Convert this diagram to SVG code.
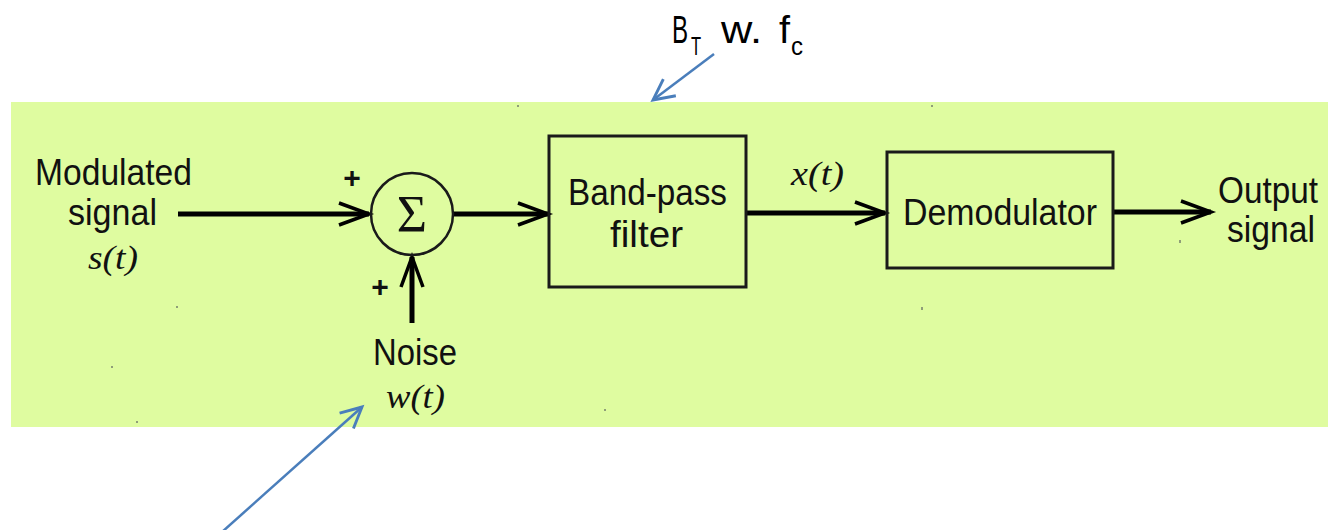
<svg xmlns="http://www.w3.org/2000/svg" width="1328" height="530" viewBox="0 0 1328 530">
  <defs>
    <style>
      .lbl { font-family: "Liberation Sans", Arial, sans-serif; font-size: 36px; fill: #111; text-anchor: start; }
      .ital { font-family: "Liberation Serif", "Times New Roman", serif; font-style: italic; font-size: 34px; fill: #111; }
      .note { font-family: "Liberation Sans", Arial, sans-serif; fill: #000; }
      .plus { font-family: "Liberation Sans", Arial, sans-serif; font-weight: bold; font-size: 30px; fill: #111; text-anchor: middle; }
      .box { fill: none; stroke: #1a1a1a; stroke-width: 3; }
      .wire { fill: none; stroke: #000; stroke-width: 5; }
      .blue { fill: none; stroke: #4a7ebb; stroke-width: 2.5; }
      .speck { fill: #8f9e78; }
    </style>
    <marker id="blk" markerUnits="userSpaceOnUse" markerWidth="40" markerHeight="30" refX="0" refY="0" viewBox="-34 -15 38 30" orient="auto" overflow="visible">
      <path d="M -30 -11 L 0 0 L -30 11" fill="none" stroke="#000" stroke-width="3.5"/>
    </marker>
    <marker id="blu" markerUnits="userSpaceOnUse" markerWidth="30" markerHeight="30" refX="0" refY="0" viewBox="-22 -12 26 24" orient="auto" overflow="visible">
      <path d="M -18 -9 L 0 0 L -18 9" fill="none" stroke="#4a7ebb" stroke-width="2.5"/>
    </marker>
  </defs>

  <rect x="0" y="0" width="1328" height="530" fill="#ffffff"/>
  <rect id="panel" x="11" y="102" width="1317" height="325" fill="#dffca0"/>

  <g id="specks">
    <rect class="speck" x="517" y="105" width="2" height="2"/>
    <rect class="speck" x="176" y="306" width="2" height="2"/>
    <rect class="speck" x="111" y="366" width="2" height="2"/>
    <rect class="speck" x="136" y="421" width="2" height="2"/>
    <rect class="speck" x="931" y="105" width="2" height="2"/>
    <rect class="speck" x="921" y="307" width="2" height="3"/>
    <rect class="speck" x="1179" y="240" width="2" height="3"/>
    <rect class="speck" x="604" y="409" width="2" height="2"/>
  </g>

  <g id="connectors">
    <line class="wire" x1="178" y1="214" x2="369" y2="214" marker-end="url(#blk)"/>
    <line class="wire" x1="453" y1="214" x2="548" y2="214" marker-end="url(#blk)"/>
    <line class="wire" x1="412" y1="323" x2="412" y2="257" marker-end="url(#blk)"/>
    <line class="wire" x1="746" y1="213" x2="885" y2="213" marker-end="url(#blk)"/>
    <line class="wire" x1="1113" y1="212" x2="1211" y2="212" marker-end="url(#blk)"/>
    <line class="blue" x1="714" y1="54" x2="653" y2="100" marker-end="url(#blu)"/>
    <line class="blue" x1="222" y1="532" x2="362" y2="407" marker-end="url(#blu)"/>
  </g>

  <g id="input">
    <text class="lbl" x="35" y="185" textLength="157" lengthAdjust="spacingAndGlyphs">Modulated</text>
    <text class="lbl" x="68" y="225" textLength="89" lengthAdjust="spacingAndGlyphs">signal</text>
    <text class="ital" x="88" y="269" textLength="50" lengthAdjust="spacingAndGlyphs">s(t)</text>
  </g>

  <g id="sum">
    <circle cx="412" cy="214" r="41" fill="none" stroke="#1a1a1a" stroke-width="2.5"/>
    <text x="412" y="232" font-family="'Liberation Serif', 'Times New Roman', serif" font-size="52" fill="#111" text-anchor="middle">Σ</text>
    <text class="plus" x="352" y="188">+</text>
    <text class="plus" x="380" y="297">+</text>
  </g>

  <g id="noise">
    <text class="lbl" x="373" y="365" textLength="84" lengthAdjust="spacingAndGlyphs">Noise</text>
    <text class="ital" x="386" y="408" textLength="59" lengthAdjust="spacingAndGlyphs">w(t)</text>
  </g>

  <g id="bpf">
    <rect class="box" x="549" y="136" width="197" height="151"/>
    <text class="lbl" x="568" y="205" textLength="159" lengthAdjust="spacingAndGlyphs">Band-pass</text>
    <text class="lbl" x="610" y="247" textLength="73" lengthAdjust="spacingAndGlyphs">filter</text>
  </g>

  <g id="xt">
    <text class="ital" x="791" y="185" textLength="53" lengthAdjust="spacingAndGlyphs">x(t)</text>
  </g>

  <g id="demod">
    <rect class="box" x="887" y="152" width="226" height="116"/>
    <text class="lbl" x="903" y="225" textLength="194" lengthAdjust="spacingAndGlyphs">Demodulator</text>
  </g>

  <g id="output">
    <text class="lbl" x="1218" y="203" textLength="100" lengthAdjust="spacingAndGlyphs">Output</text>
    <text class="lbl" x="1227" y="242" textLength="88" lengthAdjust="spacingAndGlyphs">signal</text>
  </g>

  <g id="annotation">
    <text class="note" font-size="39" transform="translate(672,43) scale(0.62,1)" x="0" y="0">B</text>
    <text class="note" font-size="25" transform="translate(691,55) scale(0.66,1)" x="0" y="0">T</text>
    <text class="note" font-size="39" x="721" y="43" textLength="41" lengthAdjust="spacingAndGlyphs">w.</text>
    <text class="note" font-size="39" x="779" y="43" textLength="11" lengthAdjust="spacingAndGlyphs">f</text>
    <text class="note" font-size="25" x="791" y="55" textLength="12" lengthAdjust="spacingAndGlyphs">c</text>
  </g>
</svg>
